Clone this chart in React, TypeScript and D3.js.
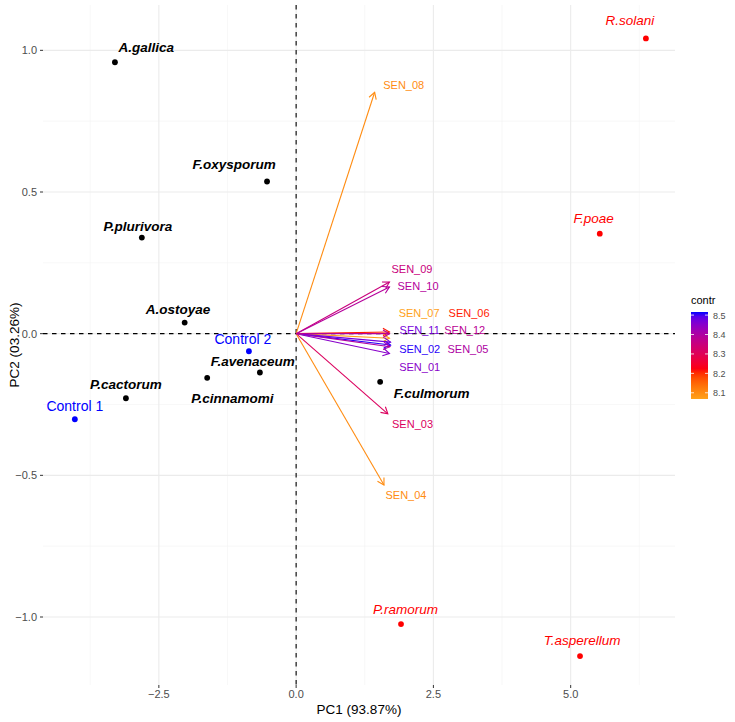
import React from "react";
import * as d3 from "d3";

// ---- data ----
const indNames = ["A.gallica","F.oxysporum","P.plurivora","A.ostoyae","Control 2","F.avenaceum","P.cinnamomi","P.cactorum","Control 1","F.culmorum","R.solani","F.poae","P.ramorum","T.asperellum"];
const indPC1 = [-3.30,-0.53,-2.81,-2.03,-0.86,-0.66,-1.62,-3.10,-4.03,1.53,6.37,5.53,1.91,5.17];
const indPC2 = [0.958,0.537,0.339,0.039,-0.062,-0.137,-0.156,-0.228,-0.302,-0.170,1.042,0.353,-1.025,-1.138];
const indGroup = ["sp","sp","sp","sp","ctrl","sp","sp","sp","ctrl","sp","out","out","out","out"];
// label anchor (data coords, after repel)
const indLabX = [-2.73,-1.13,-2.88,-2.15,-0.97,-0.79,-1.16,-3.10,-4.03,2.47,6.08,5.42,1.99,5.21];
const indLabY = [1.011,0.600,0.381,0.087,-0.020,-0.098,-0.228,-0.177,-0.256,-0.208,1.108,0.410,-0.971,-1.082];

const varNames = ["SEN_01","SEN_02","SEN_03","SEN_04","SEN_05","SEN_06","SEN_07","SEN_08","SEN_09","SEN_10","SEN_11","SEN_12"];
const varPC1 = [1.70,1.72,1.67,1.60,1.71,1.70,1.70,1.43,1.70,1.70,1.72,1.70];
const varPC2 = [-0.070,-0.040,-0.283,-0.534,-0.046,0.006,-0.016,0.852,0.182,0.165,-0.030,0.000];
const varContr = [8.45,8.51,8.31,8.10,8.40,8.21,8.07,8.10,8.35,8.39,8.47,8.38];
const varLabX = [2.25,2.25,2.12,2.00,3.13,3.15,2.24,1.96,2.11,2.22,2.25,3.07];
const varLabY = [-0.117,-0.053,-0.318,-0.569,-0.053,0.074,0.074,0.876,0.230,0.170,0.014,0.014];

const xTicks = [-2.5, 0, 2.5, 5];
const yTicks = [-1, -0.5, 0, 0.5, 1];
const xMinor = [-3.75, -1.25, 1.25, 3.75, 6.25];
const yMinor = [-0.75, -0.25, 0.25, 0.75];
const legendTicks = [8.1, 8.2, 8.3, 8.4, 8.5];
const contrRange = [8.068, 8.516];

const FONT = "'Liberation Sans', Arial, Helvetica, sans-serif";

export default function App() {
  const W = 735, H = 722;
  const pl = 43, pr = 675, pt = 5, pb = 685;
  const x = d3.scaleLinear().domain([-4.61, 6.90]).range([pl, pr]);
  const y = d3.scaleLinear().domain([-1.24, 1.16]).range([pb, pt]);
  const colorT = d3.scaleLinear<string>()
    .domain([contrRange[0], contrRange[0] + 0.33 * (contrRange[1] - contrRange[0]), contrRange[1]])
    .range(["#FFA21A", "#FF0000", "#0000FF"])
    .interpolate(d3.interpolateLab);

  const fmt = (v: number) => (v < 0 ? "\u2212" : "") + Math.abs(v).toFixed(1);

  // legend
  const lx = 691, lw = 17, lTop = 312, lBot = 399;
  const ly = d3.scaleLinear().domain(contrRange).range([lBot, lTop]);
  const stops = d3.range(0, 1.0001, 0.05);

  const arrowHead = (x0: number, y0: number, x1: number, y1: number) => {
    const ang = Math.atan2(y1 - y0, x1 - x0);
    const L = 7.5, a = Math.PI / 6;
    const p1 = [x1 - L * Math.cos(ang - a), y1 - L * Math.sin(ang - a)];
    const p2 = [x1 - L * Math.cos(ang + a), y1 - L * Math.sin(ang + a)];
    return `M${p1[0]},${p1[1]}L${x1},${y1}L${p2[0]},${p2[1]}`;
  };

  const groupColor = (g: string) => (g === "ctrl" ? "#0000FF" : g === "out" ? "#FF0000" : "#000000");

  return (
    <svg width={W} height={H} style={{ position: "absolute", left: 0, top: 0, background: "#fff" }} fontFamily={FONT}>
      {/* grid */}
      {xMinor.map((v) => (
        <line key={"xm" + v} x1={x(v)} x2={x(v)} y1={pt} y2={pb} stroke="#F3F3F3" strokeWidth={0.6} />
      ))}
      {yMinor.map((v) => (
        <line key={"ym" + v} y1={y(v)} y2={y(v)} x1={pl} x2={pr} stroke="#F3F3F3" strokeWidth={0.6} />
      ))}
      {xTicks.map((v) => (
        <line key={"xg" + v} x1={x(v)} x2={x(v)} y1={pt} y2={pb} stroke="#EBEBEB" strokeWidth={1.1} />
      ))}
      {yTicks.map((v) => (
        <line key={"yg" + v} y1={y(v)} y2={y(v)} x1={pl} x2={pr} stroke="#EBEBEB" strokeWidth={1.1} />
      ))}
      {/* ticks */}
      {xTicks.map((v) => (
        <g key={"xt" + v}>
          <line x1={x(v)} x2={x(v)} y1={pb} y2={pb + 3} stroke="#333" strokeWidth={1} />
          <text x={x(v)} y={pb + 13} textAnchor="middle" fontSize={11} fill="#4D4D4D">{fmt(v)}</text>
        </g>
      ))}
      {yTicks.map((v) => (
        <g key={"yt" + v}>
          <line x1={pl - 3} x2={pl} y1={y(v)} y2={y(v)} stroke="#333" strokeWidth={1} />
          <text x={pl - 6} y={y(v) + 4} textAnchor="end" fontSize={11} fill="#4D4D4D">{fmt(v)}</text>
        </g>
      ))}
      {/* dashed zero lines */}
      <line x1={x(0)} x2={x(0)} y1={pt} y2={pb} stroke="#000" strokeWidth={1.1} strokeDasharray="4.5,4.5" />
      <line x1={pl} x2={pr} y1={y(0)} y2={y(0)} stroke="#000" strokeWidth={1.1} strokeDasharray="4.5,4.5" />

      {/* variable arrows */}
      {varNames.map((n, i) => {
        const c = colorT(varContr[i]);
        const x0 = x(0), y0 = y(0), x1 = x(varPC1[i]), y1 = y(varPC2[i]);
        return (
          <g key={"v" + n}>
            <line x1={x0} y1={y0} x2={x1} y2={y1} stroke={c} strokeWidth={1.1} />
            <path d={arrowHead(x0, y0, x1, y1)} fill="none" stroke={c} strokeWidth={1.1} />
          </g>
        );
      })}
      {varNames.map((n, i) => (
        <text key={"vl" + n} x={x(varLabX[i])} y={y(varLabY[i]) + 4} textAnchor="middle" fontSize={11} fill={colorT(varContr[i])}>{n}</text>
      ))}

      {/* individuals */}
      {indNames.map((n, i) => (
        <circle key={"p" + n} cx={x(indPC1[i])} cy={y(indPC2[i])} r={2.9} fill={groupColor(indGroup[i])} />
      ))}
      {indNames.map((n, i) => {
        const g = indGroup[i];
        return (
          <text key={"pl" + n} x={x(indLabX[i])} y={y(indLabY[i]) + 5} textAnchor="middle"
            fontSize={g === "ctrl" ? 14 : 13.5}
            fontWeight={g === "sp" ? "bold" : "normal"}
            fontStyle={g === "ctrl" ? "normal" : "italic"}
            fill={groupColor(g)}>{n}</text>
        );
      })}

      {/* axis titles */}
      <text x={(pl + pr) / 2} y={714} textAnchor="middle" fontSize={13.5} fill="#000">PC1 (93.87%)</text>
      <text transform={`translate(19,${(pt + pb) / 2}) rotate(-90)`} textAnchor="middle" fontSize={13.5} fill="#000">PC2 (03.26%)</text>

      {/* legend */}
      <defs>
        <linearGradient id="contrGrad" x1="0" y1="1" x2="0" y2="0">
          {stops.map((s) => (
            <stop key={s} offset={s} stopColor={colorT(contrRange[0] + s * (contrRange[1] - contrRange[0]))} />
          ))}
        </linearGradient>
      </defs>
      <text x={lx} y={304} fontSize={11} fill="#000">contr</text>
      <rect x={lx} y={lTop} width={lw} height={lBot - lTop} fill="url(#contrGrad)" />
      {legendTicks.map((v) => (
        <g key={"lt" + v}>
          <line x1={lx} x2={lx + 3} y1={ly(v)} y2={ly(v)} stroke="#fff" strokeWidth={0.8} />
          <line x1={lx + lw - 3} x2={lx + lw} y1={ly(v)} y2={ly(v)} stroke="#fff" strokeWidth={0.8} />
          <text x={lx + lw + 5} y={ly(v) + 3.5} fontSize={9} fill="#4D4D4D">{v.toFixed(1)}</text>
        </g>
      ))}
    </svg>
  );
}
